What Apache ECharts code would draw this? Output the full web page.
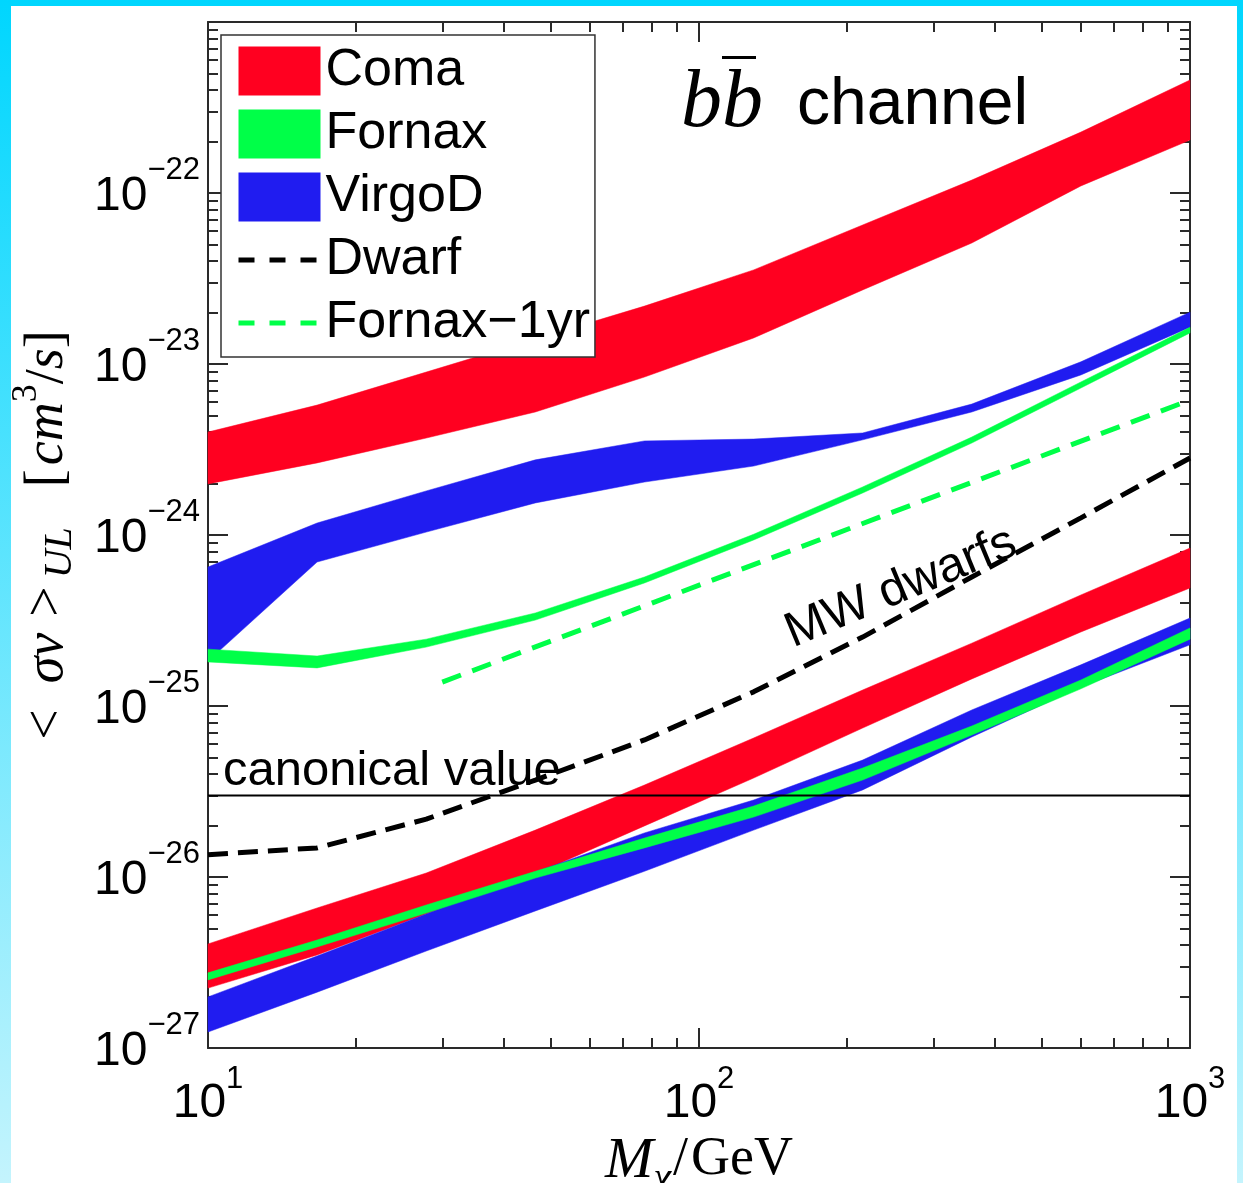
<!DOCTYPE html>
<html><head><meta charset="utf-8">
<script src="https://cdn.jsdelivr.net/npm/echarts@6/dist/echarts.min.js"></script>
<style>html,body{margin:0;padding:0;width:1243px;height:1183px;overflow:hidden}
#c{width:1243px;height:1183px}</style></head>
<body><div id="c"></div>
<script>
// ---------------- DATA (cm^3/s) ----------------
const mass = [10, 16.68, 27.83, 46.42, 77.43, 129.2, 215.4, 359.4, 599.5, 1000];
// upper group of bands
const comaHighMax   = [4.0e-24, 5.75e-24, 8.97e-24, 1.40e-23, 2.18e-23, 3.55e-23, 6.50e-23, 1.19e-22, 2.27e-22, 4.58e-22];
const comaHighMin   = [1.99e-24, 2.64e-24, 3.69e-24, 5.24e-24, 8.39e-24, 1.42e-23, 2.71e-23, 5.10e-23, 1.10e-22, 2.04e-22];
const virgoHighMax  = [6.50e-25, 1.175e-24, 1.81e-24, 2.75e-24, 3.55e-24, 3.64e-24, 3.95e-24, 5.83e-24, 1.03e-23, 2.01e-23];
const virgoHighMin  = [1.83e-25, 6.95e-25, 1.04e-24, 1.54e-24, 2.04e-24, 2.53e-24, 3.60e-24, 5.24e-24, 8.63e-24, 1.64e-23];
const fornaxHighMax = [2.15e-25, 1.96e-25, 2.46e-25, 3.50e-25, 5.68e-25, 1.01e-24, 1.91e-24, 3.74e-24, 7.85e-24, 1.64e-23];
const fornaxHighMin = [1.81e-25, 1.67e-25, 2.21e-25, 3.18e-25, 5.24e-25, 9.35e-25, 1.76e-24, 3.45e-24, 7.24e-24, 1.52e-23];
// lower group of bands
const comaLowMax    = [4.06e-27, 6.59e-27, 1.055e-26, 1.88e-26, 3.45e-26, 6.50e-26, 1.24e-25, 2.33e-25, 4.46e-25, 8.39e-25];
const comaLowMin    = [2.24e-27, 3.50e-27, 6.08e-27, 1.04e-26, 1.99e-26, 3.79e-26, 7.43e-26, 1.44e-25, 2.71e-25, 4.90e-25];
const virgoLowMax   = [1.99e-27, 3.45e-27, 6.08e-27, 1.07e-26, 1.81e-26, 2.82e-26, 4.83e-26, 9.48e-26, 1.74e-25, 3.27e-25];
const virgoLowMin   = [1.24e-27, 2.12e-27, 3.69e-27, 6.33e-27, 1.08e-26, 1.88e-26, 3.23e-26, 6.59e-26, 1.29e-25, 2.28e-25];
const fornaxLowMax  = [2.75e-27, 4.28e-27, 6.86e-27, 1.08e-26, 1.69e-26, 2.60e-26, 4.34e-26, 7.64e-26, 1.42e-25, 2.86e-25];
const fornaxLowMin  = [2.50e-27, 3.90e-27, 6.15e-27, 9.86e-27, 1.48e-26, 2.24e-26, 3.69e-26, 6.76e-26, 1.26e-25, 2.46e-25];
// lines
const dwarf = [1.35e-26, 1.48e-26, 2.18e-26, 3.69e-26, 6.33e-26, 1.21e-25, 2.53e-25, 5.68e-25, 1.26e-24, 2.82e-24];
const fornax1yrMass = [30, 1000];
const fornax1yr = [1.38e-25, 6.15e-24];
const canonical = 3e-26;
// axes
const xRange = [10, 1000];
const yRange = [1e-27, 1e-21];
const xMinorTicks = [20, 30, 40, 50, 60, 70, 80, 90, 200, 300, 400, 500, 600, 700, 800, 900];
const yMinorMantissas = [2, 3, 4, 5, 6, 7, 8, 9];
const yDecades = [-27, -26, -25, -24, -23, -22];
const legendNames = ['Coma', 'Fornax', 'VirgoD', 'Dwarf', 'Fornax\u22121yr'];

// the y axis runs in units of 1e-27 cm^3/s (avoids tiny-number rounding in the log scale)
const Y_UNIT_EXP = -27;
const yScaled = v => v / Math.pow(10, Y_UNIT_EXP);
const yMinorTicks = [];
yDecades.forEach(e => yMinorMantissas.forEach(k => yMinorTicks.push(k * Math.pow(10, e - Y_UNIT_EXP))));

// ---------------- STYLE ----------------
const RED = '#FF0020', GREEN = '#00FF48', BLUE = '#201CF0';
const SANS = '"Liberation Sans", Arial, Helvetica, sans-serif';
const SERIF = '"Liberation Serif", "Times New Roman", serif';
const lineCol = '#2a2a2a';

function band(name, upper, lower, color) {
  return {
    type: 'custom', name: name, coordinateSystem: 'cartesian2d',
    itemStyle: { color: color },
    data: [[mass[0], yScaled(upper[0])]],
    encode: { x: 0, y: 1 },
    silent: true,
    renderItem: function (params, api) {
      const pts = [];
      for (let i = 0; i < mass.length; i++) pts.push(api.coord([mass[i], yScaled(upper[i])]));
      for (let i = mass.length - 1; i >= 0; i--) pts.push(api.coord([mass[i], yScaled(lower[i])]));
      return { type: 'polygon', shape: { points: pts }, style: { fill: color, stroke: color, lineWidth: 0.5 } };
    }
  };
}

const xLabelRich = {
  b: { fontSize: 48, lineHeight: 64.5, fontFamily: SANS, color: '#000', verticalAlign: 'bottom' },
  s: { fontSize: 31, fontFamily: SANS, color: '#000', verticalAlign: 'top' }
};
const yLabelRich = {
  b: { fontSize: 48, lineHeight: 77, fontFamily: SANS, color: '#000', padding: [0, 0, 11, 0], verticalAlign: 'bottom' },
  s: { fontSize: 31, fontFamily: SANS, color: '#000', verticalAlign: 'top' }
};

function log10r(v) { return Math.round(Math.log(v) / Math.LN10); }

function xAxisCfg(pos, minor) {
  const c = {
    type: 'log', logBase: 10, min: xRange[0], max: xRange[1], position: pos, splitNumber: 2,
    axisLine: { show: !minor, onZero: false, lineStyle: { color: lineCol, width: 2 } },
    axisTick: { show: true, inside: true, length: minor ? 10 : 20, lineStyle: { color: lineCol, width: 2 } },
    minorTick: { show: false }, splitLine: { show: false }, minorSplitLine: { show: false },
    axisLabel: { show: false }
  };
  if (minor) c.axisTick.customValues = xMinorTicks;
  if (pos === 'bottom' && !minor) {
    c.axisLabel = {
      show: true, margin: 15.5, rich: xLabelRich, showMinLabel: true, showMaxLabel: true,
      formatter: function (v) { return '{b|10}{s|' + log10r(v) + '}'; }
    };
    c.name = '{m|M}{c|\u03c7}{sl|/}{g|GeV}';
    c.nameLocation = 'middle';
    c.nameGap = 80;
    c.nameTextStyle = {
      verticalAlign: 'top',
      rich: {
        m: { fontSize: 58, lineHeight: 67, fontFamily: SERIF, fontStyle: 'italic', color: '#000', verticalAlign: 'top' },
        c: { fontSize: 40, fontFamily: SERIF, fontStyle: 'italic', color: '#000', verticalAlign: 'bottom', padding: [0, 2, 0, 0] },
        sl: { fontSize: 54, lineHeight: 67, fontFamily: SERIF, color: '#000', verticalAlign: 'top', padding: [0, 3, 0, 0] },
        g: { fontSize: 54, lineHeight: 67, fontFamily: SERIF, color: '#000', verticalAlign: 'top' }
      }
    };
  }
  return c;
}

function yAxisCfg(pos, minor) {
  const c = {
    type: 'log', logBase: 10, min: yScaled(yRange[0]), max: yScaled(yRange[1]), position: pos, splitNumber: 6,
    axisLine: { show: !minor, onZero: false, lineStyle: { color: lineCol, width: 2 } },
    axisTick: { show: true, inside: true, length: minor ? 10 : 20, lineStyle: { color: lineCol, width: 2 } },
    minorTick: { show: false }, splitLine: { show: false }, minorSplitLine: { show: false },
    axisLabel: { show: false }
  };
  if (minor) c.axisTick.customValues = yMinorTicks;
  if (pos === 'left' && !minor) {
    c.axisLabel = {
      show: true, margin: 8, rich: yLabelRich, showMinLabel: true, showMaxLabel: false,
      formatter: function (v) {
        const e = log10r(v) + Y_UNIT_EXP;
        if (!isFinite(e) || e >= -21) return '';
        return '{b|10}{s|\u2212' + Math.abs(e) + '}';
      }
    };
    const base = { fontSize: 54, lineHeight: 78, fontFamily: SERIF, color: '#000' };
    const it = Object.assign({}, base, { fontStyle: 'italic' });
    c.name = '{lt|<}{sv|\u03c3v}{gt|>}{sub|UL}{br|[}{cm|cm}{sup|3}{sl|/}{s|s}{rb|]}';
    c.nameLocation = 'middle';
    c.nameRotate = 90;
    c.nameGap = 121;
    c.nameTextStyle = {
      rich: {
        lt: Object.assign({}, base, { padding: [0, 26, 0, 0] }),
        sv: Object.assign({}, it, { padding: [0, 16, 0, 0] }),
        gt: Object.assign({}, base, { padding: [0, 8, 0, 0] }),
        sub: { fontSize: 40, fontFamily: SERIF, fontStyle: 'italic', color: '#000', verticalAlign: 'bottom', padding: [0, 40, 7, 0] },
        br: Object.assign({}, base, { padding: [0, 4, 0, 0] }), cm: it,
        sup: { fontSize: 36, fontFamily: SERIF, color: '#000', verticalAlign: 'top' },
        sl: base, s: it, rb: base
      }
    };
  }
  return c;
}

const chart = echarts.init(document.getElementById('c'), null, { renderer: 'canvas', width: 1243, height: 1183 });

const hiddenSymbol = { opacity: 0 };
const option = {
  animation: false,
  backgroundColor: { type: 'linear', x: 0, y: 0, x2: 0, y2: 1,
    colorStops: [{ offset: 0, color: '#00D6FE' }, { offset: 1, color: '#C4F4FD' }] },
  grid: { left: 208, right: 53, top: 22, bottom: 135, containLabel: false, outerBoundsMode: 'none' },
  xAxis: [xAxisCfg('bottom', false), xAxisCfg('bottom', true), xAxisCfg('top', false), xAxisCfg('top', true)],
  yAxis: [yAxisCfg('left', false), yAxisCfg('left', true), yAxisCfg('right', false), yAxisCfg('right', true)],
  legend: {
    left: 221, top: 35, orient: 'vertical',
    data: [
      { name: legendNames[0], icon: 'rect' },
      { name: legendNames[1], icon: 'rect' },
      { name: legendNames[2], icon: 'rect' },
      { name: legendNames[3], itemStyle: hiddenSymbol, lineStyle: { color: '#000', width: 5, type: [16, 15] } },
      { name: legendNames[4], itemStyle: hiddenSymbol, lineStyle: { color: GREEN, width: 5, type: [16, 15] } }
    ],
    itemWidth: 82, itemHeight: 49, itemGap: 11,
    padding: [10, 5, 8, 15],
    backgroundColor: '#fff', borderColor: '#333', borderWidth: 1.5, borderRadius: 0,
    textStyle: { fontSize: 52, fontFamily: SANS, color: '#000', lineHeight: 49 },
    selectedMode: false
  },
  graphic: [
    { type: 'rect', z: -10, silent: true, shape: { x: 11, y: 6, width: 1226, height: 1183 }, style: { fill: '#fff' } },
    { type: 'text', x: 681, y: 104, silent: true, style: { text: 'bb', fontSize: 82, fontFamily: SERIF, fontStyle: 'italic', fill: '#000', align: 'left', verticalAlign: 'middle' } },
    { type: 'rect', silent: true, shape: { x: 722, y: 56, width: 34, height: 3 }, style: { fill: '#000' } },
    { type: 'text', x: 797, y: 106, silent: true, style: { text: 'channel', fontSize: 66, fontFamily: SANS, fill: '#000', align: 'left', verticalAlign: 'middle' } },
    { type: 'text', x: 223, y: 771, silent: true, style: { text: 'canonical value', fontSize: 49, fontFamily: SANS, fill: '#000', align: 'left', verticalAlign: 'middle' } },
    { type: 'group', x: 901, y: 588, rotation: 0.394, silent: true, children: [
      { type: 'text', x: 0, y: 0, style: { text: 'MW dwarfs', fontSize: 49, fontFamily: SANS, fill: '#000', align: 'center', verticalAlign: 'middle' } }
    ] }
  ],
  series: [
    band('Coma', comaHighMax, comaHighMin, RED),
    band('Coma', comaLowMax, comaLowMin, RED),
    band('VirgoD', virgoHighMax, virgoHighMin, BLUE),
    band('VirgoD', virgoLowMax, virgoLowMin, BLUE),
    band('Fornax', fornaxHighMax, fornaxHighMin, GREEN),
    band('Fornax', fornaxLowMax, fornaxLowMin, GREEN),
    {
      type: 'line', name: 'Dwarf', data: mass.map((m, i) => [m, yScaled(dwarf[i])]),
      symbol: 'none', showSymbol: false, silent: true,
      itemStyle: { color: '#000' },
      lineStyle: { color: '#000', width: 5, type: [20, 10] }
    },
    {
      type: 'line', name: 'Fornax\u22121yr', data: fornax1yrMass.map((m, i) => [m, yScaled(fornax1yr[i])]),
      symbol: 'none', showSymbol: false, silent: true,
      itemStyle: { color: GREEN },
      lineStyle: { color: GREEN, width: 5, type: [20, 12] }
    },
    {
      type: 'line', name: 'canonical', data: [[xRange[0], yScaled(canonical)], [xRange[1], yScaled(canonical)]],
      symbol: 'none', showSymbol: false, silent: true,
      itemStyle: { color: '#000' },
      lineStyle: { color: '#000', width: 2 }
    }
  ]
};
chart.setOption(option);
</script>
</body></html>
